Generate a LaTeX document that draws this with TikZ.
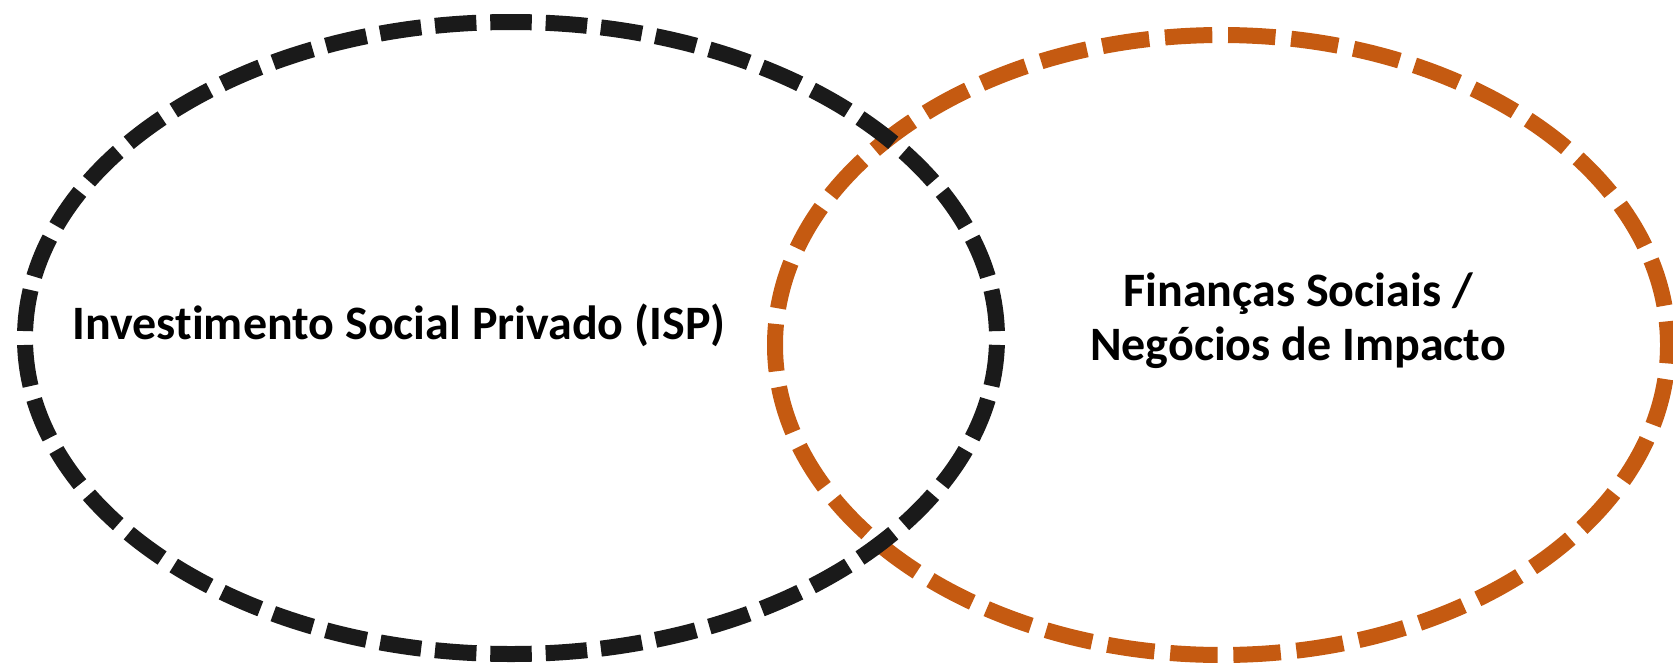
\documentclass[tikz,border=0pt]{standalone}
\usepackage{fontspec}
\setmainfont{Carlito}[Ligatures=NoCommon]
\usetikzlibrary{shapes.geometric}

\definecolor{ispblack}{HTML}{1A1A1A}
\definecolor{fsorange}{HTML}{C55A11}

\tikzset{
  ring/.style={ellipse, draw, line width=16pt, inner sep=0pt, outer sep=0pt},
  ringlabel/.style={font=\bfseries\fontsize{48}{54}\selectfont, align=center, inner sep=0pt}
}

\begin{document}
\begin{tikzpicture}[x=1pt,y=-1pt]
\useasboundingbox (0,0) rectangle (1673,662);

% Draw the two circles (orange below, black on top)
\node[ring, fsorange, minimum width=893pt, minimum height=620pt,
      dash pattern=on 47.4pt off 15.8pt, dash phase=23.7pt] (fs) at (1221.5,345) {};
\node[ring, ispblack, minimum width=972pt, minimum height=632pt,
      dash pattern=on 41.5pt off 13.9pt, dash phase=48.5pt] (isp) at (511,338) {};

% Add labels
\node[ringlabel, anchor=base] (isplabel) at (399,339) {Investimento Social Privado (ISP)};
\node[ringlabel, anchor=base] (fslabel) at (1298,360)
  {Finanças Sociais /\\Negócios de Impacto};

\end{tikzpicture}
\end{document}
